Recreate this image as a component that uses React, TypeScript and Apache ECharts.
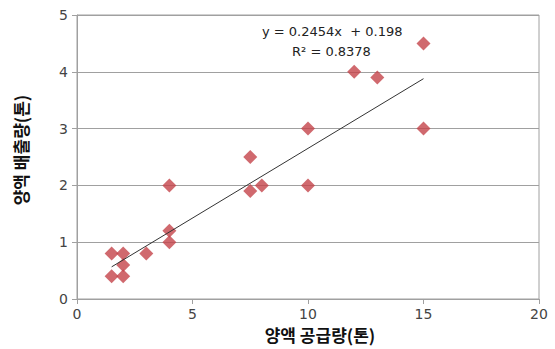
import React, { useEffect, useRef } from "react";
import * as echarts from "echarts";

// Supply (x) and drainage (y) of nutrient solution, in tonnes
const supply = [1.5, 1.5, 2, 2, 2, 3, 4, 4, 4, 7.5, 7.5, 8, 10, 10, 12, 13, 15, 15];
const drainage = [0.8, 0.4, 0.8, 0.6, 0.4, 0.8, 2.0, 1.2, 1.0, 2.5, 1.9, 2.0, 3.0, 2.0, 4.0, 3.9, 4.5, 3.0];

// Linear trend line
const slope = 0.2454;
const intercept = 0.198;
const trendRange = [1.5, 15];

const xTicks = [0, 5, 10, 15, 20];
const yTicks = [0, 1, 2, 3, 4, 5];

const xTitle = "양액 공급량(톤)";
const yTitle = "양액 배출량(톤)";

const App: React.FC = () => {
  const ref = useRef<HTMLDivElement>(null);

  useEffect(() => {
    if (!ref.current) return;
    const chart = echarts.init(ref.current, undefined, { renderer: "svg" });
    const points = supply.map((x, i) => [x, drainage[i]]);
    const trend = trendRange.map((x) => [x, slope * x + intercept]);
    const tickFont = { color: "#444", fontSize: 14, fontFamily: "DejaVu Sans" };
    const titleFont = { fontFamily: "Noto Sans CJK KR", fontWeight: "bold", fontSize: 17, fill: "#111" };

    chart.setOption({
      animation: false,
      backgroundColor: "#fff",
      grid: {
        left: 77,
        right: 16,
        top: 15,
        bottom: 50,
        show: true,
        borderColor: "#a0a0a0",
        borderWidth: 1,
      },
      xAxis: {
        type: "value",
        min: xTicks[0],
        max: xTicks[xTicks.length - 1],
        interval: 5,
        axisLine: { show: true, lineStyle: { color: "#a0a0a0" } },
        axisTick: { show: true, length: 5, lineStyle: { color: "#a0a0a0" } },
        axisLabel: { ...tickFont, margin: 8, formatter: (v: number) => (xTicks.includes(v) ? String(v) : "") },
        splitLine: { show: false },
      },
      yAxis: {
        type: "value",
        min: yTicks[0],
        max: yTicks[yTicks.length - 1],
        interval: 1,
        axisLine: { show: true, lineStyle: { color: "#a0a0a0" } },
        axisTick: { show: true, length: 5, lineStyle: { color: "#a0a0a0" } },
        axisLabel: { ...tickFont, margin: 9 },
        splitLine: { show: true, lineStyle: { color: "#a0a0a0", width: 1 } },
      },
      series: [
        {
          type: "line",
          data: trend,
          symbol: "none",
          lineStyle: { color: "#333", width: 1 },
          z: 3,
          silent: true,
        },
        {
          type: "scatter",
          data: points,
          symbol: "diamond",
          symbolSize: 14,
          itemStyle: { color: "#C4434A" },
          z: 2,
        },
      ],
      graphic: [
        {
          type: "text",
          x: 320,
          y: 334,
          style: { ...titleFont, text: xTitle, textAlign: "center", textVerticalAlign: "middle" },
        },
        {
          type: "text",
          x: 20,
          y: 150,
          rotation: Math.PI / 2,
          style: { ...titleFont, text: yTitle, textAlign: "center", textVerticalAlign: "middle" },
        },
        {
          type: "text",
          left: 262,
          top: 25,
          style: {
            text: "y = 0.2454x  + 0.198",
            fontFamily: "DejaVu Sans",
            fontSize: 13,
            fill: "#222",
          },
        },
        {
          type: "text",
          left: 292,
          top: 45,
          style: {
            text: "R² = 0.8378",
            fontFamily: "DejaVu Sans",
            fontSize: 13,
            fill: "#222",
          },
        },
      ],
    });

    return () => chart.dispose();
  }, []);

  return <div ref={ref} style={{ width: 555, height: 349, position: "absolute", left: 0, top: 0 }} />;
};

export default App;
